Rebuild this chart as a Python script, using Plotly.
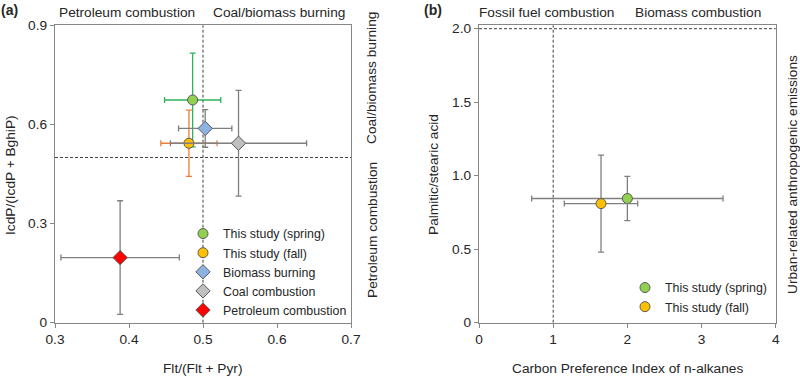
import plotly.graph_objects as go

# ---------------- Data: panel (a) ----------------
a_names = ["This study (spring)", "This study (fall)", "Biomass burning",
           "Coal combustion", "Petroleum combustion"]
a_x = [0.486, 0.481, 0.503, 0.548, 0.388]
a_xerr = [0.038, 0.038, 0.036, 0.092, 0.080]
a_y = [0.674, 0.543, 0.588, 0.543, 0.197]
a_yerr = [0.142, 0.100, 0.057, 0.160, 0.172]
a_symbols = ["circle", "circle", "diamond", "diamond", "diamond"]
a_fill = ["#92d050", "#ffc000", "#8db3e2", "#bfbfbf", "#ff0000"]
a_errcolor = ["#2eb35a", "#ed7d31", "#7f7f7f", "#7f7f7f", "#7f7f7f"]
a_xthresh = 0.5
a_ythresh = 0.5

# ---------------- Data: panel (b) ----------------
b_names = ["This study (spring)", "This study (fall)"]
b_x = [2.0, 1.645]
b_xerr = [1.29, 0.495]
b_y = [0.845, 0.81]
b_yerr = [0.15, 0.33]
b_fill = ["#92d050", "#ffc000"]
b_xthresh = 1.0
b_ythresh = 2.0

FONT = "Liberation Sans, Arial, sans-serif"
TXT = "#262626"
AX = "#868686"

fig = go.Figure()

for i in range(len(a_names)):
    fig.add_trace(go.Scatter(
        x=[a_x[i]], y=[a_y[i]], mode="markers", name=a_names[i],
        marker=dict(symbol=a_symbols[i], size=11 if a_symbols[i] == "diamond" else 10,
                    color=a_fill[i], line=dict(color="#595959", width=1)),
        error_x=dict(type="data", array=[a_xerr[i]], color=a_errcolor[i], thickness=1.3, width=3),
        error_y=dict(type="data", array=[a_yerr[i]], color=a_errcolor[i], thickness=1.3, width=3),
        xaxis="x", yaxis="y", legend="legend",
    ))

for i in range(len(b_names)):
    fig.add_trace(go.Scatter(
        x=[b_x[i]], y=[b_y[i]], mode="markers", name=b_names[i],
        marker=dict(symbol="circle", size=10, color=b_fill[i], line=dict(color="#595959", width=1)),
        error_x=dict(type="data", array=[b_xerr[i]], color="#7f7f7f", thickness=1.3, width=3),
        error_y=dict(type="data", array=[b_yerr[i]], color="#7f7f7f", thickness=1.3, width=3),
        xaxis="x2", yaxis="y2", legend="legend2",
    ))

dash = dict(color="#404040", width=1, dash="3px,2px")
shapes = [
    dict(type="line", xref="x", yref="y domain", x0=a_xthresh, x1=a_xthresh, y0=0, y1=1, line=dash, layer="below"),
    dict(type="line", xref="x domain", yref="y", x0=0, x1=1, y0=a_ythresh, y1=a_ythresh, line=dash, layer="below"),
    dict(type="line", xref="x2", yref="y2 domain", x0=b_xthresh, x1=b_xthresh, y0=0, y1=1, line=dash, layer="below"),
    dict(type="line", xref="x2 domain", yref="y2", x0=0, x1=1, y0=b_ythresh, y1=b_ythresh, line=dash, layer="below"),
]

W, H = 800, 377
def px(x):
    return x / W
def py(y):
    return 1 - y / H

def ann(text, x, y, angle=0, size=13.7):
    return dict(text=text, x=px(x), y=py(y), xref="paper", yref="paper",
                showarrow=False, textangle=angle, xanchor="center", yanchor="middle",
                font=dict(family=FONT, size=size, color=TXT))

annotations = [
    ann("<b>(a)</b>", 9, 10, size=14),
    ann("<b>(b)</b>", 433, 10, size=14),
    ann("Petroleum combustion", 127, 13),
    ann("Coal/biomass burning", 279, 13),
    ann("Coal/biomass burning", 372, 78, angle=-90),
    ann("Petroleum combustion", 372, 230, angle=-90),
    ann("IcdP/(IcdP + BghiP)", 10, 175, angle=-90),
    ann("Flt/(Flt + Pyr)", 203, 368),
    ann("Fossil fuel combustion", 546, 13),
    ann("Biomass combustion", 698, 13),
    ann("Urban-related anthropogenic emissions", 792, 175, angle=-90),
    ann("Palmitic/stearic acid", 433, 175, angle=-90),
    ann("Carbon Preference Index of n-alkanes", 627, 368),
]

axis_common = dict(showline=True, linecolor=AX, linewidth=1.3, mirror=True,
                   ticks="outside", ticklen=4, tickcolor=AX, tickwidth=1.3,
                   showgrid=False, zeroline=False, automargin=False,
                   tickfont=dict(family=FONT, size=13.7, color=TXT))

ydom = [py(322.7), py(25.3)]

fig.update_layout(
    width=W, height=H,
    margin=dict(l=0, r=0, t=0, b=0, autoexpand=False),
    paper_bgcolor="white", plot_bgcolor="white",
    font=dict(family=FONT, color=TXT),
    xaxis=dict(domain=[px(55), px(351)], range=[0.3, 0.7], tickvals=[0.3, 0.4, 0.5, 0.6, 0.7],
               ticktext=["0.3", "0.4", "0.5", "0.6", "0.7"], anchor="y", **axis_common),
    yaxis=dict(domain=ydom, range=[0, 0.9], tickvals=[0, 0.3, 0.6, 0.9],
               ticktext=["0", "0.3", "0.6", "0.9"], anchor="x", **axis_common),
    xaxis2=dict(domain=[px(479), px(775.7)], range=[0, 4], tickvals=[0, 1, 2, 3, 4], anchor="y2", **axis_common),
    yaxis2=dict(domain=ydom, range=[0, 2.023], tickvals=[0, 0.5, 1.0, 1.5, 2.0],
                ticktext=["0", "0.5", "1.0", "1.5", "2.0"], anchor="x2", **axis_common),
    legend=dict(x=px(183), y=py(219), xanchor="left", yanchor="top",
                bgcolor="rgba(0,0,0,0)", font=dict(family=FONT, size=12.4, color=TXT),
                itemwidth=30, tracegroupgap=0),
    legend2=dict(x=px(625), y=py(273), xanchor="left", yanchor="top",
                 bgcolor="rgba(0,0,0,0)", font=dict(family=FONT, size=12.4, color=TXT),
                 itemwidth=30, tracegroupgap=0),
    shapes=shapes,
    annotations=annotations,
)

fig.write_html("out.html",
               config={"displayModeBar": False},
               post_script="document.body.style.margin='0px';document.body.style.overflow='hidden';")
